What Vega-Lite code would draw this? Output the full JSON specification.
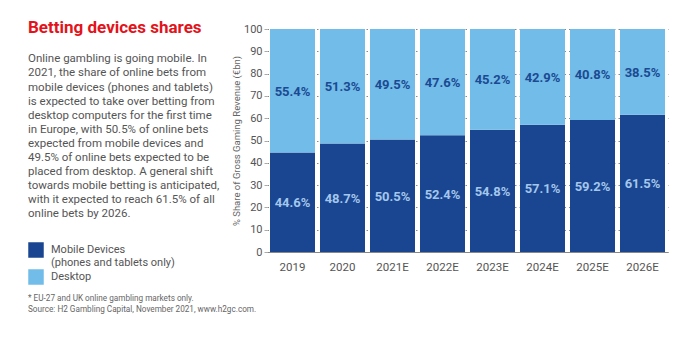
{
  "$schema": "https://vega.github.io/schema/vega-lite/v6.json",
  "width": 401,
  "height": 223,
  "autosize": {"type": "none"},
  "padding": {"left": 267, "top": 29, "right": 32, "bottom": 88},
  "background": "white",
  "title": {
    "text": "Betting devices shares",
    "subtitle": [
      "Online gambling is going mobile. In",
      "2021, the share of online bets from",
      "mobile devices (phones and tablets)",
      "is expected to take over betting from",
      "desktop computers for the first time",
      "in Europe, with 50.5% of online bets",
      "expected from mobile devices and",
      "49.5% of online bets expected to be",
      "placed from desktop. A general shift",
      "towards mobile betting is anticipated,",
      "with it expected to reach 61.5% of all",
      "online bets by 2026."
    ],
    "anchor": "start",
    "frame": "group",
    "orient": "top",
    "offset": 0,
    "dx": -239,
    "dy": 198,
    "font": "Roboto, sans-serif",
    "fontSize": 17,
    "fontWeight": "bold",
    "color": "#e3131b",
    "subtitleFont": "Roboto, sans-serif",
    "subtitleFontSize": 11.5,
    "subtitleColor": "#555555",
    "subtitleLineHeight": 14.1,
    "subtitlePadding": 16
  },
  "data": {
    "values": [
      {"year": "2019", "device": "Mobile Devices", "value": 44.6},
      {"year": "2019", "device": "Desktop", "value": 55.4},
      {"year": "2020", "device": "Mobile Devices", "value": 48.7},
      {"year": "2020", "device": "Desktop", "value": 51.3},
      {"year": "2021E", "device": "Mobile Devices", "value": 50.5},
      {"year": "2021E", "device": "Desktop", "value": 49.5},
      {"year": "2022E", "device": "Mobile Devices", "value": 52.4},
      {"year": "2022E", "device": "Desktop", "value": 47.6},
      {"year": "2023E", "device": "Mobile Devices", "value": 54.8},
      {"year": "2023E", "device": "Desktop", "value": 45.2},
      {"year": "2024E", "device": "Mobile Devices", "value": 57.1},
      {"year": "2024E", "device": "Desktop", "value": 42.9},
      {"year": "2025E", "device": "Mobile Devices", "value": 59.2},
      {"year": "2025E", "device": "Desktop", "value": 40.8},
      {"year": "2026E", "device": "Mobile Devices", "value": 61.5},
      {"year": "2026E", "device": "Desktop", "value": 38.5}
    ]
  },
  "transform": [
    {"stack": "value", "groupby": ["year"], "sort": [{"field": "device", "order": "descending"}], "as": ["v0", "v1"]}
  ],
  "encoding": {
    "x": {
      "field": "year",
      "type": "ordinal",
      "scale": {"paddingInner": 0.1, "paddingOuter": 0.06},
      "axis": {
        "title": null,
        "labelAngle": 0,
        "labelFontSize": 11.5,
        "labelColor": "#555555",
        "labelPadding": 9,
        "ticks": false,
        "domain": true,
        "domainColor": "#888888",
        "domainWidth": 1,
        "grid": false
      }
    }
  },
  "layer": [
    {
      "mark": {"type": "bar"},
      "encoding": {
        "y": {
          "field": "v0",
          "type": "quantitative",
          "scale": {"domain": [0, 100]},
          "title": "% Share of Gross Gaming Revenue (€bn)",
          "axis": {
            "values": [0, 10, 20, 30, 40, 50, 60, 70, 80, 90, 100],
            "labelOverlap": false,
            "grid": true,
            "gridDash": [1.5, 3],
            "gridColor": "#8a8a8a",
            "gridWidth": 1,
            "domain": false,
            "ticks": true,
            "tickSize": 3,
            "tickColor": "#aaaaaa",
            "labelPadding": 2,
            "labelFontSize": 11,
            "labelColor": "#555555",
            "titleFontSize": 9.5,
            "titleFontWeight": "normal",
            "titleColor": "#666666",
            "titlePadding": 2
          }
        },
        "y2": {"field": "v1"},
        "color": {
          "field": "device",
          "type": "nominal",
          "scale": {"domain": ["Mobile Devices", "Desktop"], "range": ["#1a4590", "#71bce8"]},
          "legend": {
            "orient": "none",
            "legendX": -239,
            "legendY": 213,
            "title": ["* EU-27 and UK online gambling markets only.", "Source: H2 Gambling Capital, November 2021, www.h2gc.com."],
            "titleOrient": "bottom",
            "titleAnchor": "start",
            "titleFont": "Roboto, sans-serif",
            "titleFontSize": 8.2,
            "titleFontWeight": "normal",
            "titleColor": "#666666",
            "titleLineHeight": 11,
            "titlePadding": 10,
            "titleLimit": 400,
            "symbolType": "square",
            "symbolSize": 240,
            "symbolStrokeWidth": 0,
            "symbolOpacity": 1,
            "labelFont": "Roboto, sans-serif",
            "labelFontSize": 11,
            "labelColor": "#555555",
            "labelOffset": 7,
            "labelBaseline": "middle",
            "labelLimit": 250,
            "rowPadding": 1,
            "labelExpr": "datum.label == 'Mobile Devices' ? ['Mobile Devices', '(phones and tablets only)'] : datum.label"
          }
        }
      }
    },
    {
      "transform": [{"fold": ["v0", "v1"], "as": ["bound", "pos"]}],
      "mark": {"type": "text", "font": "Roboto, sans-serif", "fontSize": 13, "fontWeight": "bold", "dy": 1},
      "encoding": {
        "y": {
          "aggregate": "mean",
          "field": "pos",
          "type": "quantitative",
          "title": "% Share of Gross Gaming Revenue (€bn)",
          "axis": {
            "values": [0, 10, 20, 30, 40, 50, 60, 70, 80, 90, 100],
            "labelOverlap": false,
            "grid": true,
            "gridDash": [1.5, 3],
            "gridColor": "#8a8a8a",
            "gridWidth": 1,
            "domain": false,
            "ticks": true,
            "tickSize": 3,
            "tickColor": "#aaaaaa",
            "labelPadding": 2,
            "labelFontSize": 11,
            "labelColor": "#555555",
            "titleFontSize": 9.5,
            "titleFontWeight": "normal",
            "titleColor": "#666666",
            "titlePadding": 2
          }
        },
        "detail": {"field": "device", "type": "nominal"},
        "text": {"field": "value", "type": "quantitative", "format": "$.1f"},
        "color": {
          "condition": {"test": "datum.device === 'Mobile Devices'", "value": "#a3c7ec"},
          "value": "#1c4a92"
        }
      }
    }
  ],
  "config": {
    "view": {"stroke": null},
    "font": "Roboto, sans-serif",
    "axis": {"labelFont": "Roboto, sans-serif", "titleFont": "Roboto, sans-serif"},
    "locale": {
      "number": {"decimal": ".", "thousands": ",", "grouping": [3], "currency": ["", "%"]}
    }
  }
}
